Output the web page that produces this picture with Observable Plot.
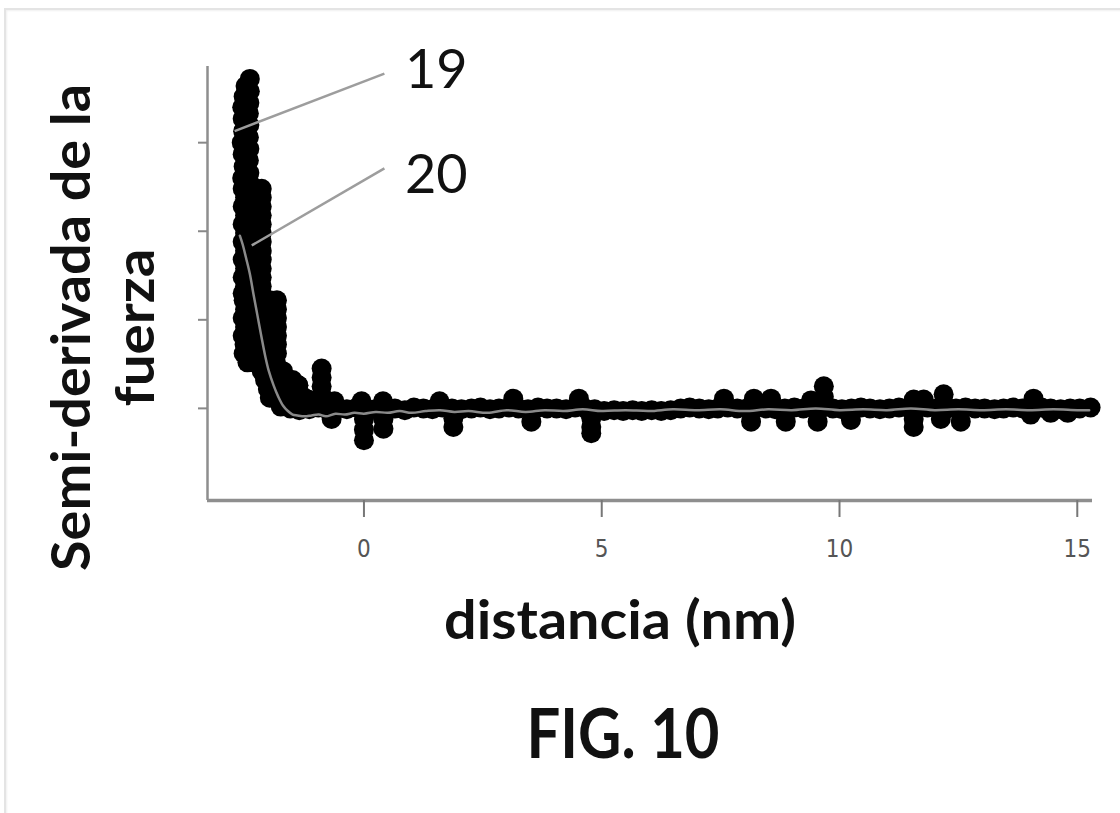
<!DOCTYPE html>
<html>
<head>
<meta charset="utf-8">
<script src="https://cdn.jsdelivr.net/npm/d3@7"></script>
<script src="https://cdn.jsdelivr.net/npm/@observablehq/plot@0.6"></script>
<style>
html, body { margin: 0; padding: 0; background: #fff; }
#wrap { position: relative; width: 1120px; height: 813px; overflow: hidden; background: #fff; }
#frame { position: absolute; left: 4px; top: 8px; width: 1200px; height: 900px;
  border-top: 2px solid #e4e4e4; border-left: 2px solid #e4e4e4; box-shadow: inset 1px 1px 2px #f0f0f0; }
#chart { position: absolute; left: 0; top: 0; }
</style>
</head>
<body>
<div id="wrap"><div id="frame"></div><div id="chart"></div></div>
<script>
// ---------- data ----------
const xDomain = [-3.29, 15.32];
const yDomain = [-1.04, 3.86];
const xTicks = [0, 5, 10, 15];
const yTicks = [0, 1, 2, 3];

const yLabelText = "Semi-derivada de la\nfuerza";
const xLabelText = "distancia (nm)";
const figTitle = "FIG. 10";

// dense cluster of measured points near contact
const clusterX = [
  -2.40,-2.49,-2.40,-2.53,-2.41,-2.56,-2.42,-2.55,-2.41,-2.54,-2.42,-2.57,-2.41,-2.55,-2.42,-2.53,-2.41,-2.56,-2.40,
  -2.55,-2.40,-2.27,-2.15,  -2.50,-2.40,-2.27,-2.15,  -2.55,-2.40,-2.27,-2.15,  -2.50,-2.40,-2.27,-2.15,
  -2.55,-2.40,-2.27,-2.15,  -2.50,-2.40,-2.27,-2.15,  -2.55,-2.40,-2.27,-2.15,  -2.50,-2.40,-2.27,-2.15,
  -2.55,-2.40,-2.27,-2.15,  -2.50,-2.40,-2.27,-2.15,  -2.55,-2.40,-2.27,-2.15,  -2.50,-2.40,-2.27,-2.15,
  -2.55,-2.40,-2.27,-2.15,
  -2.53,-2.40,-2.27,-2.13,-1.98,-1.83,  -2.50,-2.40,-2.27,-2.13,-1.98,-1.83,  -2.55,-2.40,-2.27,-2.13,-1.98,-1.83,
  -2.50,-2.40,-2.27,-2.13,-1.98,-1.83,  -2.55,-2.40,-2.27,-2.13,-1.98,-1.83,  -2.51,-2.40,-2.27,-2.13,-1.98,-1.83,
  -2.53,-2.40,-2.27,-2.13,-1.98,-1.83,
  -2.45,-2.30,-2.15,-2.00,-1.85,
  -2.15,-2.00,-1.85,-1.70,
  -2.08,-1.95,-1.80,-1.65,-1.50,-1.38,
  -2.02,-1.88,-1.73,-1.58,-1.45,
  -1.98,-1.85,-1.70,-1.58,-1.45,-1.30,-1.18
];
const clusterY = [
  3.72,3.64,3.58,3.52,3.45,3.40,3.33,3.27,3.20,3.13,3.06,3.00,2.93,2.87,2.80,2.73,2.66,2.60,2.54,
  2.48,2.48,2.48,2.48,  2.38,2.38,2.38,2.38,  2.28,2.28,2.28,2.28,  2.18,2.18,2.18,2.18,
  2.08,2.08,2.08,2.08,  1.98,1.98,1.98,1.98,  1.88,1.88,1.88,1.88,  1.78,1.78,1.78,1.78,
  1.68,1.68,1.68,1.68,  1.58,1.58,1.58,1.58,  1.48,1.48,1.48,1.48,  1.38,1.38,1.38,1.38,
  1.30,1.30,1.30,1.30,
  1.22,1.22,1.22,1.22,1.22,1.22,  1.12,1.12,1.12,1.12,1.12,1.12,  1.02,1.02,1.02,1.02,1.02,1.02,
  0.92,0.92,0.92,0.92,0.92,0.92,  0.82,0.82,0.82,0.82,0.82,0.82,  0.72,0.72,0.72,0.72,0.72,0.72,
  0.62,0.62,0.62,0.62,0.62,0.62,
  0.52,0.52,0.52,0.52,0.52,
  0.42,0.42,0.42,0.42,
  0.32,0.32,0.32,0.32,0.32,0.26,
  0.22,0.22,0.22,0.22,0.22,
  0.12,0.12,0.12,0.12,0.14,0.12,0.10
];

// points along the flat baseline
const baseX = [
  -1.75,-1.55,-1.36,-1.15,-0.96,-0.75,-0.55,-0.36,-0.15,0.05,0.24,0.45,0.65,0.86,1.05,1.25,1.44,1.65,1.85,2.05,
  2.26,2.45,2.65,2.84,3.05,3.25,3.45,3.66,3.85,4.05,4.25,4.44,4.65,4.85,5.05,5.26,5.45,5.65,5.84,6.05,
  6.25,6.45,6.66,6.85,7.05,7.25,7.44,7.65,7.85,8.05,8.26,8.45,8.65,8.85,9.05,9.24,9.45,9.65,9.86,10.05,
  10.25,10.45,10.64,10.85,11.05,11.25,11.46,11.65,11.85,12.05,12.24,12.45,12.65,12.85,13.05,13.26,13.45,13.65,13.85,14.05,
  14.25,14.44,14.65,14.85,15.05,15.28
];
const baseY = [
  0.02,0.00,-0.02,-0.01,0.01,-0.02,0.00,-0.01,0.01,0.00,-0.01,0.01,0.00,-0.02,0.01,0.00,-0.01,0.01,0.00,-0.01,
  0.00,0.01,-0.01,0.00,0.01,0.00,-0.01,0.01,0.00,0.00,-0.01,0.01,0.00,-0.01,-0.03,-0.02,-0.03,-0.02,-0.03,-0.02,
  -0.03,-0.02,0.00,0.01,0.00,-0.01,0.00,0.01,0.00,0.00,0.01,0.00,-0.01,0.00,0.01,0.00,0.00,0.01,0.00,-0.01,
  0.00,0.01,0.00,-0.01,0.00,0.01,0.00,0.00,0.01,0.00,-0.01,0.00,0.01,0.00,0.00,-0.01,0.00,0.01,0.00,0.00,
  0.01,0.00,-0.01,0.00,0.00,0.01
];

// isolated excursions above and below the baseline
const spikeX = [
  -0.89,-0.89,-0.89,-0.89,-1.48,-1.38,-1.25,-0.62,-0.05,0.40,1.59,3.14,4.52,7.57,8.20,8.56,9.40,9.67,9.67,11.56,11.77,12.19,12.19,14.08,
  -0.68,0.00,0.00,0.00,0.41,0.41,1.88,1.88,3.52,4.78,4.78,4.78,8.14,8.87,9.54,10.24,11.56,11.56,12.13,12.55,14.02,14.44,14.80
];
const spikeY = [
  0.45,0.35,0.25,0.15,0.18,0.26,0.12,0.08,0.08,0.08,0.08,0.11,0.11,0.11,0.11,0.11,0.09,0.25,0.13,0.10,0.10,0.16,0.06,0.11,
  -0.12,-0.12,-0.24,-0.36,-0.12,-0.23,-0.11,-0.21,-0.15,-0.11,-0.21,-0.28,-0.15,-0.15,-0.15,-0.13,-0.12,-0.21,-0.12,-0.15,-0.07,-0.05,-0.05
];

// smoothed curve (element 20)
const fitX = [-2.61,-2.55,-2.48,-2.40,-2.32,-2.24,-2.16,-2.08,-2.00,-1.90,-1.80,-1.70,-1.60,-1.50,-1.40,-1.25,-1.10,-0.95,-0.80,-0.60,
  -0.40,-0.20,0.00,0.25,0.50,0.75,1.00,1.30,1.60,1.90,2.20,2.60,3.00,3.40,3.80,4.20,4.60,5.00,5.50,6.00,
  6.50,7.00,7.50,8.00,8.50,9.00,9.50,10.00,10.50,11.00,11.50,12.00,12.50,13.00,13.50,14.00,14.50,15.00,15.25];
const fitY = [1.95,1.85,1.70,1.52,1.28,1.05,0.82,0.60,0.42,0.26,0.13,0.03,-0.03,-0.07,-0.08,-0.09,-0.08,-0.07,-0.09,-0.06,
  -0.07,-0.05,-0.06,-0.04,-0.05,-0.03,-0.05,-0.03,-0.02,-0.04,-0.03,-0.05,-0.02,-0.04,-0.02,-0.03,-0.01,-0.03,-0.02,-0.03,
  -0.01,-0.02,-0.01,-0.03,-0.01,-0.02,0.00,-0.02,-0.01,-0.02,0.00,-0.02,-0.01,-0.02,-0.01,-0.02,-0.01,-0.02,-0.02];

// callouts
const calloutText = ["19", "20"];
const calloutX = [1.52, 1.52];
const calloutY = [3.81, 2.63];
const leaderX1 = [0.43, 0.43];
const leaderY1 = [3.78, 2.71];
const leaderX2 = [-2.72, -2.36];
const leaderY2 = [3.13, 1.84];

// ---------- tables built from the arrays ----------
const points = [
  ...clusterX.map((x, i) => ({x, y: clusterY[i]})),
  ...baseX.map((x, i) => ({x, y: baseY[i]})),
  ...spikeX.map((x, i) => ({x, y: spikeY[i]}))
];
const fit = fitX.map((x, i) => ({x, y: fitY[i]}));
const callouts = calloutText.map((t, i) => ({t, x: calloutX[i], y: calloutY[i]}));
const leaders = leaderX1.map((x1, i) => ({x1, y1: leaderY1[i], x2: leaderX2[i], y2: leaderY2[i]}));

const sans = "Lato, 'Open Sans', 'Noto Sans', sans-serif";
const narrow = "'Liberation Sans Narrow', 'DejaVu Sans Condensed', 'Liberation Sans', sans-serif";

const chart = Plot.plot({
  width: 1120,
  height: 813,
  marginLeft: 207,
  marginRight: 28,
  marginTop: 66,
  marginBottom: 313,
  style: {background: "transparent", overflow: "visible"},
  x: {domain: xDomain},
  y: {domain: yDomain},
  marks: [
    Plot.ruleX([xDomain[0]], {stroke: "#8e8e8e", strokeWidth: 2.5}),
    Plot.ruleY([yDomain[0]], {stroke: "#8e8e8e", strokeWidth: 3.5}),
    Plot.axisX({ticks: xTicks, tickSize: 17, tickPadding: 22, stroke: "#777", strokeWidth: 2,
      fill: "#555", fontSize: 24, fontFamily: narrow, label: null}),
    Plot.axisY({ticks: yTicks, tickSize: 9, tickFormat: () => "", stroke: "#888", strokeWidth: 2, label: null}),
    Plot.dot(points, {x: "x", y: "y", r: 10, fill: "#000", stroke: null}),
    Plot.line(fit, {x: "x", y: "y", stroke: "#8a8a8a", strokeWidth: 2.5, curve: "catmull-rom"}),
    Plot.link(leaders, {x1: "x1", y1: "y1", x2: "x2", y2: "y2", stroke: "#9d9d9d", strokeWidth: 2.5}),
    Plot.text(callouts, {x: "x", y: "y", text: "t", fontSize: 54, fontFamily: sans, fill: "#111", textAnchor: "middle", lineAnchor: "middle"}),
    Plot.text([yLabelText], {frameAnchor: "left", rotate: -90, dx: -54, dy: 44, lineAnchor: "bottom", lineHeight: 1.18,
      fontSize: 54, fontWeight: "bold", fontFamily: sans, fill: "#111", textAnchor: "middle"}),
    Plot.text([xLabelText], {frameAnchor: "bottom", dx: -30, dy: 138, lineAnchor: "bottom",
      fontSize: 54, fontWeight: "bold", fontFamily: sans, fill: "#111", textAnchor: "middle"}),
    Plot.text([figTitle], {frameAnchor: "bottom", dx: -27, dy: 257, lineAnchor: "bottom",
      fontSize: 68, fontWeight: "bold", fontFamily: sans, fill: "#111", textAnchor: "middle"})
  ]
});
document.getElementById("chart").appendChild(chart);

// fit the title widths to the condensed lettering of the original
const textWidths = new Map([["Semi-derivada de la", 487], ["fuerza", 158], ["distancia (nm)", 352], ["FIG. 10", 193]]);
d3.select(chart).selectAll("text, tspan").each(function () {
  if (this.children.length) return;
  const w = textWidths.get(this.textContent);
  if (w) { this.setAttribute("textLength", w); this.setAttribute("lengthAdjust", "spacingAndGlyphs"); }
});
</script>
</body>
</html>
